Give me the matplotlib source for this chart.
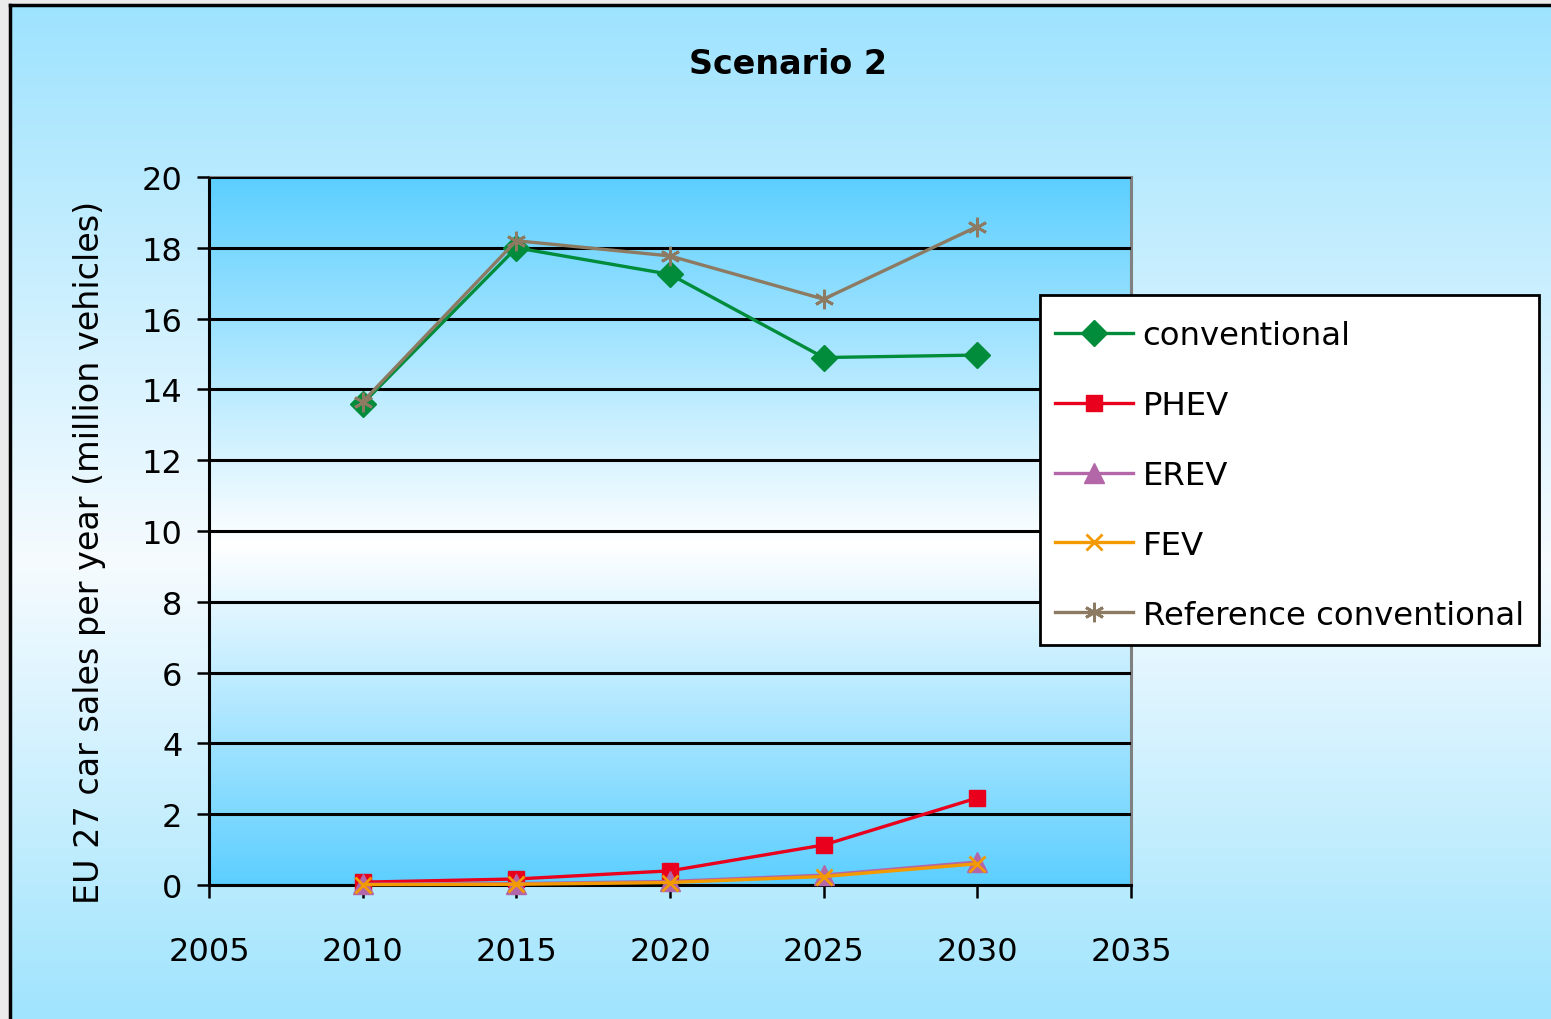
import numpy as np
import matplotlib.pyplot as plt
from matplotlib.colors import LinearSegmentedColormap
from matplotlib.patches import Rectangle

plt.rcParams['font.family'] = ['DejaVu Sans']

years = [2010, 2015, 2020, 2025, 2030]
conventional = [13.6, 18.0, 17.25, 14.9, 14.97]
phev = [0.08, 0.17, 0.4, 1.13, 2.46]
erev = [0.02, 0.04, 0.1, 0.28, 0.65]
fev = [0.01, 0.02, 0.07, 0.24, 0.6]
reference = [13.65, 18.2, 17.77, 16.55, 18.6]

labels = ['conventional', 'PHEV', 'EREV', 'FEV', 'Reference conventional']
colors = ['#008c3a', '#e8001c', '#b366a8', '#f29a00', '#8c7b62']
markers = ['D', 's', '^', 'x', (6, 2, 0)]
msizes = [13, 12, 14, 11, 14]

W, H = 1551, 1020
fig = plt.figure(figsize=(W / 100, H / 100), dpi=100, facecolor='#ebebeb')

# background panel with vertical gradient
bg = fig.add_axes([10 / W, 0, 1 - 10 / W, 1 - 6 / H], zorder=-5)
bg_cmap = LinearSegmentedColormap.from_list('bg', [(0, '#a0e4fd'), (0.45, '#f6fbff'), (1, '#9ee3fe')])
bg.imshow(np.linspace(0, 1, 256).reshape(-1, 1), aspect='auto', cmap=bg_cmap,
          origin='lower', extent=[0, 1, 0, 1])
bg.set_xticks([])
bg.set_yticks([])
for s in ['right', 'bottom']:
    bg.spines[s].set_visible(False)
for s in ['top', 'left']:
    bg.spines[s].set_linewidth(2.5)
    bg.spines[s].set_color('black')

ax = fig.add_axes([209 / W, (H - 886) / H, (1131 - 209) / W, (886 - 178) / H])
pa_cmap = LinearSegmentedColormap.from_list('pa', [(0, '#5ccfff'), (0.48, '#ffffff'), (1, '#5ccfff')])
ax.imshow(np.linspace(0, 1, 256).reshape(-1, 1), aspect='auto', cmap=pa_cmap,
          origin='lower', extent=[2005, 2035, 0, 20], zorder=0)

series = [conventional, phev, erev, fev, reference]
order = [4, 0, 2, 3, 1]
handles = {}
for i in order:
    mew = 2 if i >= 3 else 1
    h, = ax.plot(years, series[i], color=colors[i], lw=2.4, marker=markers[i],
                 markersize=msizes[i], markerfacecolor=colors[i], markeredgecolor=colors[i],
                 markeredgewidth=mew, label=labels[i], zorder=3 + i, clip_on=False)
    handles[i] = h

ax.set_xlim(2005, 2035)
ax.set_ylim(0, 20)
ax.set_xticks(range(2005, 2040, 5))
ax.set_yticks(range(0, 22, 2))
ax.yaxis.grid(True, color='black', lw=2.2, zorder=1)
ax.set_axisbelow(False)
ax.tick_params(axis='both', direction='out', length=9, width=1.8, labelsize=23, colors='black')
ax.tick_params(axis='x', pad=28)
ax.tick_params(axis='y', pad=10)
ax.spines['left'].set_linewidth(2.2)
ax.spines['bottom'].set_linewidth(2.2)
ax.spines['top'].set_color('#808080')
ax.spines['right'].set_color('#808080')
ax.spines['top'].set_linewidth(2.2)
ax.spines['right'].set_linewidth(2.2)

ax.set_ylabel('EU 27 car sales per year (million vehicles)', fontsize=24)
ax.yaxis.set_label_coords((106 - 209) / 922, (886 - 552) / 708)
fig.text(788 / W, 1 - 64 / H, 'Scenario 2', fontsize=24, fontweight='bold',
         ha='center', va='center')

# legend box
box = Rectangle((1040 / W, 1 - 646 / H), 499 / W, 350 / H, transform=fig.transFigure,
                facecolor='white', edgecolor='black', lw=2, zorder=2)
fig.add_artist(box)
leg = fig.legend([handles[i] for i in range(5)], labels, loc='upper left',
                 bbox_to_anchor=(1040 / W, 1 - 306 / H), fontsize=23.3,
                 frameon=False, handlelength=2.4, handletextpad=0.3, labelspacing=1.2,
                 borderpad=0.47, borderaxespad=0)
leg.set_zorder(5)

fig.savefig('out.png', dpi=100, facecolor=fig.get_facecolor())
